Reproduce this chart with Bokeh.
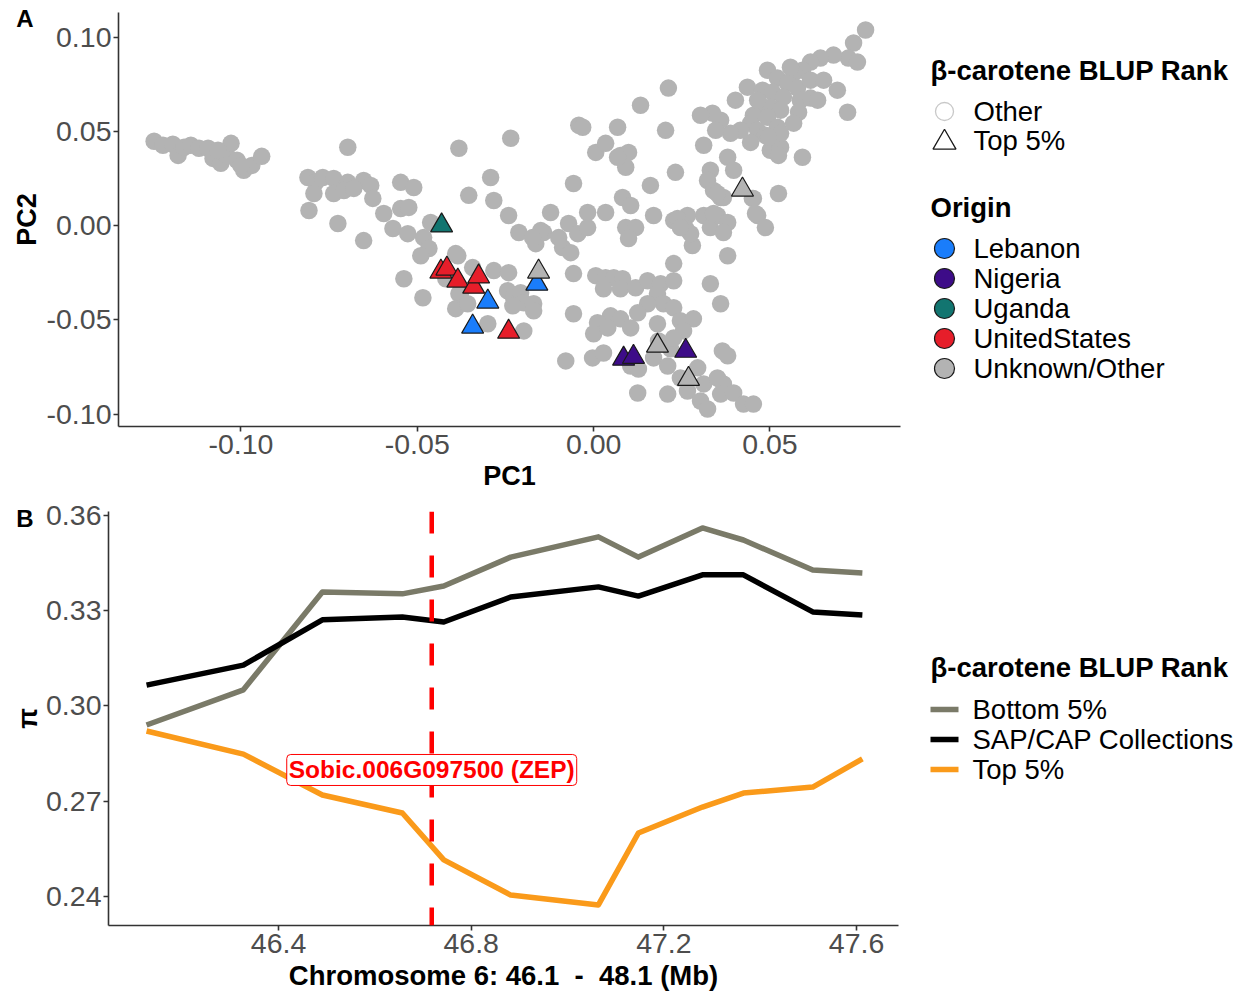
from bokeh.plotting import figure
from bokeh.models import Range1d, FixedTicker, NumeralTickFormatter, Span, Label, LinearAxis
from bokeh.layouts import row, column
from bokeh.core.properties import value
from bokeh.embed import file_html
from bokeh.resources import INLINE

FONT = "Liberation Sans"
TICK_SIZE = "28.5px"
TITLE_SIZE = "27px"
LEG_TITLE_SIZE = "27.5px"
LEG_SIZE = "27.5px"

# ---------------- Panel A data ----------------
other_pc1 = [
    -0.1246, -0.1221, -0.1193, -0.1178, -0.1161, -0.1142, -0.1119, -0.1093, -0.1079, -0.1057,
    -0.1040, -0.1028, -0.1011, -0.0992, -0.0969, -0.0941, -0.1065, -0.1000,
    -0.0697, -0.0810, -0.0788, -0.0768, -0.0737, -0.0697, -0.0652, -0.0632, -0.0626, -0.0793,
    -0.0737, -0.0708, -0.0680, -0.0807, -0.0725, -0.0595, -0.0547, -0.0510, -0.0547, -0.0524,
    -0.0569, -0.0527, -0.0462, -0.0482, -0.0652, -0.0382, -0.0467, -0.0490, -0.0538, -0.0484,
    -0.0419, -0.0385, -0.0391, -0.0382,
    -0.0235, -0.0292, -0.0354, -0.0283, -0.0241, -0.0212, -0.0164, -0.0142, -0.0122, -0.0099,
    -0.0071, -0.0088, -0.0065, -0.0045, -0.0017, -0.0017, 0.0034, 0.0082, 0.0105, 0.0091,
    0.0119, 0.0099, 0.0170, 0.0227, 0.0266, 0.0261, 0.0312, 0.0331, 0.0351, 0.0380,
    0.0368, 0.0360, 0.0465, 0.0487, 0.0453, 0.0524, 0.0280, 0.0380, -0.0057, -0.0042,
    0.0068, 0.0006, 0.0034, 0.0076, 0.0099, 0.0091, 0.0133, 0.0212, 0.0204, 0.0161,
    0.0232, -0.0150, -0.0173, -0.0031, 0.0068, 0.0238, 0.0275,
    -0.0391, -0.0343, -0.0283, -0.0241, -0.0377, -0.0357, -0.0244, -0.0227, -0.0207, -0.0198,
    -0.0229, -0.0170, -0.0170, -0.0300, -0.0198,
    -0.0057, -0.0057, -0.0079, 0.0006, 0.0034, 0.0057, 0.0082, 0.0028, 0.0076, 0.0119,
    0.0153, 0.0190, 0.0227, 0.0227, 0.0331, 0.0360, 0.0181, 0.0198, 0.0153, 0.0227,
    0.0125, 0.0048, 0.0076, 0.0011, 0.0000, 0.0040, 0.0105, 0.0181, 0.0246, 0.0283,
    0.0255, -0.0003, 0.0028, 0.0105, 0.0127, 0.0170, 0.0210, 0.0218, 0.0125, 0.0210,
    0.0246, 0.0266, 0.0295, 0.0312, 0.0303, 0.0323, 0.0351, 0.0368, 0.0360, 0.0397,
    0.0425, 0.0453, 0.0365, 0.0380, 0.0184, 0.0227,
    0.0771, 0.0737, 0.0722, 0.0748, 0.0680, 0.0643, 0.0615, 0.0592, 0.0567, 0.0493,
    0.0521, 0.0550, 0.0578, 0.0615, 0.0652, 0.0691, 0.0720, 0.0436, 0.0402, 0.0479,
    0.0507, 0.0538, 0.0586, 0.0615, 0.0581, 0.0473, 0.0501, 0.0530, 0.0453, 0.0493,
    0.0521, 0.0445, 0.0465, 0.0487, 0.0445, 0.0416, 0.0388, 0.0360, 0.0337, 0.0303,
    0.0346, 0.0312, 0.0501, 0.0530, 0.0524, 0.0592, 0.0380, 0.0331, 0.0397, 0.0323,
    0.0340, 0.0368, 0.0450,
    0.0459, 0.0558, 0.0465, 0.0567, 0.0530, 0.0496, 0.0635, 0.0351, 0.0246, 0.0340,
]
other_pc2 = [
    0.0447, 0.0426, 0.0431, 0.0372, 0.0415, 0.0426, 0.0410, 0.0410, 0.0356, 0.0330,
    0.0372, 0.0436, 0.0346, 0.0293, 0.0319, 0.0367, 0.0399, 0.0319,
    0.0415, 0.0255, 0.0229, 0.0255, 0.0250, 0.0229, 0.0239, 0.0213, 0.0144, 0.0170,
    0.0170, 0.0186, 0.0197, 0.0080, 0.0011, 0.0064, 0.0229, 0.0202, 0.0090, 0.0096,
    -0.0016, -0.0043, 0.0016, -0.0064, -0.0080, 0.0410, -0.0122, -0.0160, -0.0282, -0.0383,
    -0.0282, -0.0160, -0.0441, -0.0362,
    0.0463, 0.0255, 0.0160, 0.0133, 0.0053, -0.0037, -0.0096, -0.0037, 0.0069, -0.0064,
    0.0011, -0.0117, -0.0144, -0.0043, 0.0069, -0.0011, 0.0069, 0.0149, 0.0106, -0.0011,
    -0.0011, -0.0069, 0.0053, 0.0027, 0.0053, -0.0016, 0.0053, -0.0011, 0.0053, 0.0016,
    -0.0037, 0.0149, 0.0053, -0.0011, 0.0144, 0.0170, -0.0106, -0.0160, 0.0223, 0.0532,
    0.0521, 0.0388, 0.0436, 0.0372, 0.0388, 0.0309, 0.0638, 0.0729, 0.0505, 0.0213,
    0.0282, -0.0027, -0.0064, 0.0521, 0.0362, 0.0037, -0.0043,
    -0.0149, -0.0223, -0.0239, -0.0250, -0.0356, -0.0415, -0.0346, -0.0383, -0.0356, -0.0410,
    -0.0426, -0.0415, -0.0452, -0.0521, -0.0559,
    -0.0255, -0.0468, -0.0718, -0.0266, -0.0277, -0.0277, -0.0282, -0.0335, -0.0335, -0.0330,
    -0.0293, -0.0309, -0.0202, -0.0293, -0.0309, -0.0415, -0.0362, -0.0415, -0.0415, -0.0436,
    -0.0463, -0.0479, -0.0495, -0.0516, -0.0574, -0.0543, -0.0543, -0.0521, -0.0505, -0.0495,
    -0.0559, -0.0702, -0.0676, -0.0745, -0.0761, -0.0702, -0.0745, -0.0654, -0.0888, -0.0894,
    -0.0809, -0.0878, -0.0755, -0.0840, -0.0931, -0.0973, -0.0809, -0.0840, -0.0894, -0.0888,
    -0.0947, -0.0947, -0.0665, -0.0691, -0.0612, -0.0596,
    0.1037, 0.0968, 0.0888, 0.0867, 0.0904, 0.0888, 0.0867, 0.0824, 0.0809, 0.0824,
    0.0782, 0.0755, 0.0729, 0.0771, 0.0771, 0.0718, 0.0601, 0.0734, 0.0665, 0.0718,
    0.0707, 0.0681, 0.0665, 0.0676, 0.0601, 0.0638, 0.0628, 0.0612, 0.0585, 0.0574,
    0.0521, 0.0543, 0.0505, 0.0479, 0.0441, 0.0505, 0.0489, 0.0559, 0.0596, 0.0585,
    0.0505, 0.0426, 0.0399, 0.0415, 0.0372, 0.0362, 0.0362, 0.0293, 0.0293, 0.0239,
    0.0186, 0.0149, 0.0144,
    0.0064, 0.0840, 0.0665, 0.0543, 0.0489, 0.0468, 0.0665, 0.0170, -0.0011, 0.0064,
]
top_pc1 = [-0.0431, -0.0433, -0.0416, -0.0385, -0.0340, -0.0326, -0.0241,
           -0.0300, -0.0343, -0.0161, -0.0156, 0.0181, 0.0269, 0.0422,
           0.0085, 0.0113, 0.0261]
top_pc2 = [0.0000, -0.0245, -0.0229, -0.0293, -0.0325, -0.0271, -0.0564,
           -0.0404, -0.0537, -0.0309, -0.0245, -0.0638, -0.0814, 0.0190,
           -0.0707, -0.0697, -0.0665]
top_origin = ["Uganda", "UnitedStates", "UnitedStates", "UnitedStates", "UnitedStates",
              "UnitedStates", "UnitedStates", "Lebanon", "Lebanon", "Lebanon",
              "Unknown/Other", "Unknown/Other", "Unknown/Other", "Unknown/Other",
              "Nigeria", "Nigeria", "Nigeria"]
origin_names = ["Lebanon", "Nigeria", "Uganda", "UnitedStates", "Unknown/Other"]
origin_colors = ["#1A7DFB", "#3D0C88", "#127570", "#E61E2A", "#B3B3B3"]
rank_names = ["Other", "Top 5%"]
pc1_ticks = [-0.10, -0.05, 0.00, 0.05]
pc2_ticks = [-0.10, -0.05, 0.00, 0.05, 0.10]

# ---------------- Panel B data ----------------
pos_mb = [46.126, 46.327, 46.491, 46.657, 46.743, 46.882, 47.064, 47.147, 47.280, 47.365, 47.509, 47.612]
pi_bottom5 = [0.2940, 0.3051, 0.3360, 0.3354, 0.3379, 0.3470, 0.3534, 0.3470, 0.3562, 0.3524, 0.3429, 0.3420]
pi_sapcap = [0.3066, 0.3129, 0.3272, 0.3281, 0.3265, 0.3344, 0.3376, 0.3347, 0.3414, 0.3414, 0.3297, 0.3287]
pi_top5 = [0.2921, 0.2848, 0.2719, 0.2662, 0.2514, 0.2403, 0.2372, 0.2599, 0.2681, 0.2725, 0.2744, 0.2833]
series_names = ["Bottom 5%", "SAP/CAP Collections", "Top 5%"]
series_colors = ["#7A7A68", "#000000", "#FA9A1A"]
gene_pos_mb = 46.718
gene_name = "Sobic.006G097500 (ZEP)"
mb_ticks = [46.4, 46.8, 47.2, 47.6]
pi_ticks = [0.24, 0.27, 0.30, 0.33, 0.36]

# label / tag placement (layout only)
GENE_LABEL_Y = 0.2798
TAG_A_Y = 0.1098
TAG_B_Y = 0.3592


def style(p):
    p.xgrid.visible = False
    p.ygrid.visible = False
    p.outline_line_color = None
    p.background_fill_color = "white"
    p.border_fill_color = "white"
    for ax in p.axis:
        ax.axis_line_color = "#333333"
        ax.axis_line_width = 1.6
        ax.major_tick_line_color = "#333333"
        ax.major_tick_line_width = 1.6
        ax.major_tick_out = 5
        ax.major_tick_in = 0
        ax.minor_tick_out = 0
        ax.minor_tick_in = 0
        ax.major_label_text_font = FONT
        ax.major_label_text_font_size = TICK_SIZE
        ax.major_label_text_color = "#4D4D4D"
        ax.axis_label_text_font = FONT
        ax.axis_label_text_font_size = TITLE_SIZE
        ax.axis_label_text_font_style = "bold"
        ax.axis_label_text_color = "#000000"


def add_tag(p, text, y, standoff):
    # panel tag drawn as the single tick label of an extra, line-less left axis
    ax = LinearAxis(ticker=FixedTicker(ticks=[y]), major_label_overrides={y: text},
                    axis_line_color=None, major_tick_line_color=None,
                    minor_tick_line_color=None, major_tick_out=0, major_tick_in=0,
                    minor_tick_out=0, minor_tick_in=0,
                    major_label_standoff=standoff,
                    major_label_text_font=FONT, major_label_text_font_style="bold",
                    major_label_text_font_size="24px", major_label_text_color="#000000")
    p.add_layout(ax, "left")


def legend_fig(top, bottom):
    f = figure(frame_width=334, frame_height=414,
               x_range=Range1d(0, 334), y_range=Range1d(414, 0),
               output_backend="svg", toolbar_location=None,
               min_border_left=0, min_border_right=0,
               min_border_top=top, min_border_bottom=bottom,
               x_axis_location=None, y_axis_location=None)
    f.grid.visible = False
    f.outline_line_color = None
    return f


# ---------------- Panel A ----------------
pA = figure(frame_width=782, frame_height=414,
            x_range=Range1d(-0.1347, 0.0870), y_range=Range1d(-0.1066, 0.1130),
            output_backend="svg", toolbar_location=None,
            min_border_left=118, min_border_right=10, min_border_top=12, min_border_bottom=70,
            x_axis_label="PC1", y_axis_label="PC2")
style(pA)
pA.xaxis.ticker = FixedTicker(ticks=pc1_ticks)
pA.yaxis.ticker = FixedTicker(ticks=pc2_ticks)
pA.xaxis.formatter = NumeralTickFormatter(format="0.00")
pA.yaxis.formatter = NumeralTickFormatter(format="0.00")
pA.xaxis.major_label_standoff = 3
pA.xaxis.axis_label_standoff = 4
pA.yaxis.major_label_standoff = 2
pA.yaxis.axis_label_standoff = 2
add_tag(pA, "A", TAG_A_Y, -25)

pA.scatter(other_pc1, other_pc2, marker="circle", size=17.5,
           fill_color=origin_colors[-1], line_color=None)
top_colors = [origin_colors[origin_names.index(o)] for o in top_origin]
pA.scatter(top_pc1, top_pc2, marker="triangle", size=22,
           fill_color=top_colors, line_color="#1A1A1A", line_width=1.2)

# ---------------- Legend A ----------------
legA = legend_fig(12, 70)
KEY_X = 34
LABEL_X = 63
TITLE_X = 20
rank_y = [99 + 29 * i for i in range(len(rank_names))]
origin_y = [236 + 30 * i for i in range(len(origin_names))]
legA.text(x=[TITLE_X, TITLE_X], y=[58, 195], text=["β-carotene BLUP Rank", "Origin"],
          text_font=value(FONT), text_font_size=value(LEG_TITLE_SIZE), text_font_style="bold",
          text_baseline="middle", text_align="left", text_color="#000000")
legA.scatter([KEY_X], [rank_y[0]], marker="circle", size=18, fill_color=None,
             line_color="#C8C8C8", line_width=1.3)
legA.scatter([KEY_X], [rank_y[1] + 2], marker="triangle", size=23, fill_color=None,
             line_color="#1A1A1A", line_width=1.3)
legA.text(x=[LABEL_X] * len(rank_names), y=rank_y, text=rank_names,
          text_font=value(FONT), text_font_size=value(LEG_SIZE),
          text_baseline="middle", text_align="left", text_color="#000000")
legA.scatter([KEY_X] * len(origin_names), origin_y, marker="circle", size=20,
             fill_color=origin_colors, line_color="#1A1A1A", line_width=1.2)
legA.text(x=[LABEL_X] * len(origin_names), y=origin_y, text=origin_names,
          text_font=value(FONT), text_font_size=value(LEG_SIZE),
          text_baseline="middle", text_align="left", text_color="#000000")

# ---------------- Panel B ----------------
pB = figure(frame_width=790, frame_height=414,
            x_range=Range1d(46.047, 47.687), y_range=Range1d(0.2307, 0.3614),
            output_backend="svg", toolbar_location=None,
            min_border_left=108, min_border_right=12, min_border_top=15, min_border_bottom=66,
            x_axis_label="Chromosome 6: 46.1 \u00a0-\u00a0 48.1 (Mb)", y_axis_label="π")
style(pB)
pB.xaxis.ticker = FixedTicker(ticks=mb_ticks)
pB.yaxis.ticker = FixedTicker(ticks=pi_ticks)
pB.xaxis.formatter = NumeralTickFormatter(format="0.0")
pB.yaxis.formatter = NumeralTickFormatter(format="0.00")
pB.xaxis.major_label_standoff = 3
pB.xaxis.axis_label_standoff = 4
pB.xaxis.axis_label_text_font_size = "27.5px"
pB.yaxis.major_label_standoff = 2
pB.yaxis.axis_label_standoff = 0
add_tag(pB, "B", TAG_B_Y, -23)

for vals, col in zip([pi_bottom5, pi_sapcap, pi_top5], series_colors):
    pB.line(pos_mb, vals, line_color=col, line_width=5.5, line_join="round")

pB.add_layout(Span(location=gene_pos_mb, dimension="height", line_color="#FF0000",
                   line_width=4.5, line_dash="22 22"))
pB.add_layout(Label(x=gene_pos_mb, y=GENE_LABEL_Y, text=gene_name,
                    text_font=FONT, text_font_style="bold", text_font_size="24.5px",
                    text_color="#FF0000", text_align="center", text_baseline="middle",
                    background_fill_color="white", border_line_color="#FF0000",
                    border_line_width=1, padding=2, border_radius=4))

# ---------------- Legend B ----------------
legB = legend_fig(15, 66)
series_y = [198 + 30 * i for i in range(len(series_names))]
legB.text(x=[TITLE_X], y=[156], text=["β-carotene BLUP Rank"],
          text_font=value(FONT), text_font_size=value(LEG_TITLE_SIZE), text_font_style="bold",
          text_baseline="middle", text_align="left", text_color="#000000")
legB.segment(x0=[20] * 3, y0=series_y, x1=[48] * 3, y1=series_y,
             line_color=series_colors, line_width=5.5)
legB.text(x=[62] * 3, y=series_y, text=series_names,
          text_font=value(FONT), text_font_size=value(LEG_SIZE),
          text_baseline="middle", text_align="left", text_color="#000000")

layout = column(row(pA, legA), row(pB, legB))
open("out.html", "w").write(file_html(layout, INLINE))
